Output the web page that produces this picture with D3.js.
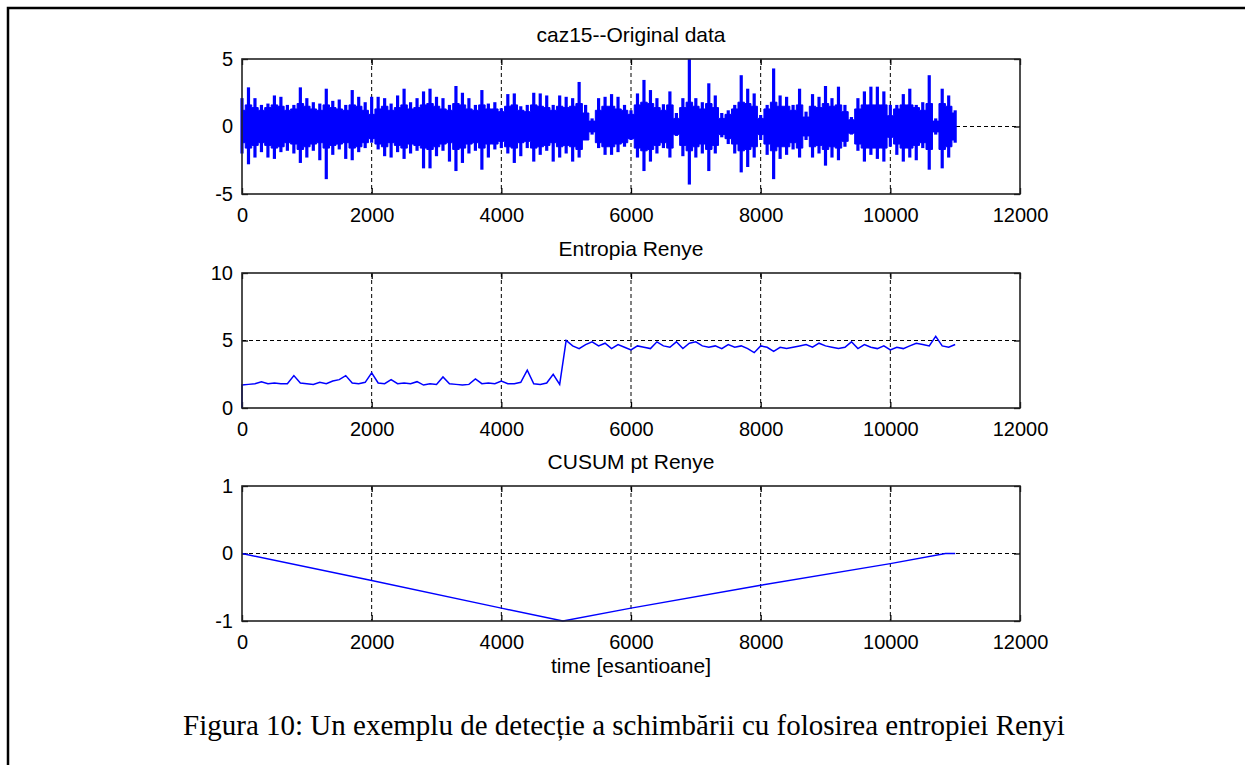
<!DOCTYPE html>
<html>
<head>
<meta charset="utf-8">
<script src="https://cdn.jsdelivr.net/npm/d3@7"></script>
<style>
  body { margin: 0; background: #fff; }
  .axis text { font-family: "Liberation Sans", Arial, sans-serif; fill: #000; }
</style>
</head>
<body>
<div id="chart"></div>
<script>
// values
var xTicks = [0, 2000, 4000, 6000, 8000, 10000, 12000];
var titles = ["caz15--Original data", "Entropia Renye", "CUSUM pt Renye"];
var xLabel = "time [esantioane]";
var caption = "Figura 10: Un exemplu de detecție a schimbării cu folosirea entropiei Renyi";

var yDomains = [[-5, 5], [0, 10], [-1, 1]];
var yTicks = [[-5, 0, 5], [0, 5, 10], [-1, 0, 1]];

// original signal, every 100 samples: spike top, spike bottom, dense core half-width
var sigStep = 100;
var sigHigh = [2.1, 2.9, 2.1, 1.6, 1.7, 2.3, 2.2, 1.6, 1.6, 2.9,
               2.1, 1.8, 1.7, 2.8, 1.9, 2.0, 1.6, 2.7, 2.2, 1.8,
               2.2, 2.2, 2.1, 1.7, 2.3, 2.8, 1.8, 2.1, 2.6, 2.8,
               2.2, 2.1, 1.6, 3.0, 2.5, 2.1, 1.6, 2.7, 1.7, 1.8,
               1.35, 2.4, 2.45, 1.5, 1.6, 2.5, 2.45, 2.3, 1.6, 2.3,
               2.2, 2.1, 3.3, 1.6, 0.6, 2.1, 2.2, 2.4, 2.2, 1.6,
               1.2, 2.45, 3.45, 2.7, 2.1, 1.65, 2.6, 1.0, 2.1, 5.0,
               2.1, 1.8, 3.2, 2.3, 1.0, 1.2, 1.6, 3.8, 2.8, 2.45,
               0.85, 1.6, 4.3, 2.3, 2.2, 1.6, 2.8, 1.1, 2.4, 2.2,
               3.0, 2.1, 2.95, 1.6, 0.7, 2.1, 2.6, 2.95, 2.95, 2.6,
               1.6, 1.6, 2.4, 2.8, 1.6, 1.8, 3.8, 0.6, 2.8, 2.3,
               1.2];
var sigLow = [-2.0, -2.8, -2.3, -1.9, -2.3, -2.4, -1.9, -1.8, -2.0, -2.7,
              -2.3, -1.8, -2.5, -3.9, -2.1, -1.7, -2.4, -2.5, -1.9, -1.6,
              -1.2, -1.7, -2.2, -2.3, -1.9, -2.4, -2.0, -1.8, -3.1, -3.1,
              -2.2, -1.8, -2.6, -3.3, -2.7, -2.0, -1.8, -3.2, -2.3, -1.7,
              -1.6, -2.0, -2.7, -2.2, -1.6, -2.6, -2.1, -1.8, -2.6, -2.3,
              -2.0, -2.6, -2.3, -1.0, -0.6, -1.6, -2.1, -2.1, -1.9, -1.5,
              -1.0, -2.3, -3.3, -2.6, -2.0, -1.6, -2.3, -0.7, -2.2, -4.3,
              -2.3, -2.0, -3.3, -2.0, -0.8, -1.3, -2.0, -3.4, -3.0, -2.3,
              -1.0, -2.1, -3.9, -2.4, -2.1, -1.7, -2.3, -1.0, -2.3, -2.0,
              -2.9, -2.3, -2.5, -1.5, -0.6, -1.8, -2.6, -2.1, -2.4, -2.6,
              -1.5, -2.1, -2.6, -2.3, -2.5, -1.6, -3.2, -0.6, -3.1, -2.3,
              -1.2];
var sigCore = [1.2, 1.6, 1.4, 1.2, 1.4, 1.6, 1.5, 1.2, 1.3, 1.7,
               1.5, 1.3, 1.2, 1.6, 1.4, 1.3, 1.2, 1.6, 1.5, 1.2,
               0.9, 1.3, 1.5, 1.2, 1.4, 1.6, 1.3, 1.4, 1.6, 1.7,
               1.5, 1.3, 1.2, 1.7, 1.6, 1.3, 1.2, 1.6, 1.3, 1.3,
               1.1, 1.5, 1.6, 1.2, 1.1, 1.6, 1.5, 1.4, 1.2, 1.5,
               1.4, 1.5, 1.7, 1.0, 0.4, 1.2, 1.5, 1.5, 1.3, 1.2,
               0.9, 1.6, 1.8, 1.7, 1.4, 1.2, 1.6, 0.6, 1.4, 1.8,
               1.5, 1.3, 1.7, 1.4, 0.6, 0.9, 1.3, 1.8, 1.7, 1.5,
               0.6, 1.3, 1.8, 1.5, 1.5, 1.2, 1.6, 0.7, 1.5, 1.4,
               1.7, 1.5, 1.6, 1.1, 0.5, 1.3, 1.6, 1.6, 1.6, 1.6,
               0.8, 1.3, 1.6, 1.6, 1.4, 1.2, 1.7, 0.4, 1.7, 1.5,
               1.0];

// Renyi entropy: first point is the start at 0, then one value every 100 samples
var entStep = 100;
var entropy = [0, 1.7, 1.75, 1.8, 1.95, 1.8, 1.85, 1.8, 1.8, 2.4, 1.85,
               1.8, 1.75, 1.9, 1.8, 2.0, 2.1, 2.4, 1.85, 1.8, 1.9,
               2.6, 1.85, 1.8, 2.1, 1.8, 1.85, 1.8, 1.95, 1.7, 1.8,
               1.75, 2.3, 1.8, 1.75, 1.7, 1.75, 2.15, 1.8, 1.85, 1.8,
               2.0, 1.8, 1.8, 1.9, 2.8, 1.8, 1.75, 1.85, 2.5, 1.75,
               5.0, 4.6, 4.4, 4.7, 4.9, 4.6, 4.8, 4.4, 4.7, 4.5,
               4.3, 4.6, 4.5, 4.4, 4.9, 4.6, 4.5, 4.9, 4.4, 4.8,
               4.9, 4.6, 4.5, 4.6, 4.4, 4.7, 4.5, 4.6, 4.4, 4.1,
               4.6, 4.5, 4.2, 4.5, 4.4, 4.5, 4.6, 4.7, 4.5, 4.8,
               4.6, 4.5, 4.4, 4.5, 4.9, 4.4, 4.7, 4.5, 4.4, 4.6,
               4.3, 4.5, 4.4, 4.6, 4.8, 4.7, 4.6, 5.3, 4.6, 4.5,
               4.7];

// CUSUM breakpoints
var cusumX = [0, 2000, 4000, 4950, 6000, 8000, 10000, 10850, 11000];
var cusumY = [0, -0.4, -0.81, -1.0, -0.81, -0.47, -0.15, 0, 0];

// page geometry
var W = 1245, H = 765;
var plotLeft = 242, plotRight = 1020;
var panelTop = [59, 273, 486];
var panelH = 135;
var tickFont = 20, titleFont = 21;

var svg = d3.select("#chart")
    .append("svg")
    .attr("width", W)
    .attr("height", H);

svg.append("rect")
    .attr("width", W).attr("height", H)
    .style("fill", "#fff");

// document frame (only top and left edges fall inside the picture)
svg.append("rect")
    .attr("x", 8).attr("y", 8)
    .attr("width", W + 50).attr("height", H + 50)
    .style("fill", "none")
    .style("stroke", "#000")
    .style("stroke-width", 2.5);

var x = d3.scaleLinear()
    .domain([0, 12000])
    .range([0, plotRight - plotLeft]);

function plainNum(d) { return String(d); }

function drawPanel(idx)
{
    var g = svg.append("g")
        .attr("transform", "translate(" + plotLeft + "," + panelTop[idx] + ")");

    var y = d3.scaleLinear()
        .domain(yDomains[idx])
        .range([panelH, 0]);

    // dashed grid
    var yt = yTicks[idx];
    g.selectAll("vgrid")
        .data(xTicks.slice(1, -1)).enter()
        .append("line")
        .attr("x1", function(d) { return x(d); })
        .attr("x2", function(d) { return x(d); })
        .attr("y1", 0).attr("y2", panelH)
        .style("stroke", "#000")
        .style("stroke-width", 1)
        .style("stroke-dasharray", "4,3");
    g.selectAll("hgrid")
        .data(yt.slice(1, -1)).enter()
        .append("line")
        .attr("x1", 0).attr("x2", x(12000))
        .attr("y1", function(d) { return y(d); })
        .attr("y2", function(d) { return y(d); })
        .style("stroke", "#000")
        .style("stroke-width", 1)
        .style("stroke-dasharray", "4,3");

    // axes with inward ticks
    g.append("g")
        .attr("class", "axis")
        .attr("transform", "translate(0," + panelH + ")")
        .call(d3.axisBottom(x).tickValues(xTicks).tickFormat(plainNum)
            .tickSizeInner(-6).tickSizeOuter(0).tickPadding(13.5));
    g.append("g")
        .attr("class", "axis")
        .call(d3.axisLeft(y).tickValues(yt).tickFormat(plainNum)
            .tickSizeInner(-6).tickSizeOuter(0).tickPadding(9));
    g.append("g")
        .attr("class", "axis")
        .call(d3.axisTop(x).tickValues(xTicks).tickSizeInner(-6).tickSizeOuter(0).tickFormat(""));
    g.append("g")
        .attr("class", "axis")
        .attr("transform", "translate(" + x(12000) + ",0)")
        .call(d3.axisRight(y).tickValues(yt).tickSizeInner(-6).tickSizeOuter(0).tickFormat(""));

    g.selectAll(".axis .domain").remove();
    g.selectAll(".axis line").style("stroke", "#000").style("stroke-width", 1.3);
    g.selectAll(".axis text").style("font-size", tickFont + "px");

    // title
    g.append("text")
        .attr("x", x(6000))
        .attr("y", -17)
        .style("text-anchor", "middle")
        .style("font-family", "Liberation Sans, Arial, sans-serif")
        .style("font-size", titleFont + "px")
        .text(titles[idx]);

    return {g: g, y: y};
}

// panel 1: original data, dense core plus spikes
var p1 = drawPanel(0);
var env = sigHigh.map(function(h, i) {
    return {s: i * sigStep, hi: h, lo: sigLow[i], core: sigCore[i]};
});
p1.g.append("path")
    .datum(env)
    .attr("d", d3.area()
        .x(function(d) { return x(d.s); })
        .y0(function(d) { return p1.y(-d.core); })
        .y1(function(d) { return p1.y(d.core); })
        .curve(d3.curveStep))
    .style("fill", "#0000ff")
    .style("stroke", "#0000ff")
    .style("stroke-width", 1);
p1.g.selectAll("spike")
    .data(env)
    .enter()
    .append("line")
    .attr("x1", function(d) { return x(d.s); })
    .attr("x2", function(d) { return x(d.s); })
    .attr("y1", function(d) { return p1.y(d.lo); })
    .attr("y2", function(d) { return p1.y(d.hi); })
    .style("stroke", "#0000ff")
    .style("stroke-width", 3.2);

// panel 2: entropy
var p2 = drawPanel(1);
p2.g.append("path")
    .datum(entropy)
    .attr("d", d3.line()
        .x(function(d, i) { return x(i === 0 ? 0 : (i - 1) * entStep); })
        .y(function(d) { return p2.y(d); }))
    .style("fill", "none")
    .style("stroke", "#0000ff")
    .style("stroke-width", 1.5);

// panel 3: CUSUM
var p3 = drawPanel(2);
p3.g.append("path")
    .datum(cusumX)
    .attr("d", d3.line()
        .x(function(d) { return x(d); })
        .y(function(d, i) { return p3.y(cusumY[i]); }))
    .style("fill", "none")
    .style("stroke", "#0000ff")
    .style("stroke-width", 1.4);

// boxes on top
[p1, p2, p3].forEach(function(p) {
    p.g.append("rect")
        .attr("width", x(12000))
        .attr("height", panelH)
        .style("fill", "none")
        .style("stroke", "#222")
        .style("stroke-width", 1.6);
});

p3.g.append("text")
    .attr("x", x(6000))
    .attr("y", panelH + 52)
    .style("text-anchor", "middle")
    .style("font-family", "Liberation Sans, Arial, sans-serif")
    .style("font-size", titleFont + "px")
    .text(xLabel);

// figure caption
svg.append("text")
    .attr("x", 624)
    .attr("y", 735)
    .style("text-anchor", "middle")
    .style("font-family", "Liberation Serif, Times New Roman, serif")
    .style("font-size", "29px")
    .text(caption);
</script>
</body>
</html>
